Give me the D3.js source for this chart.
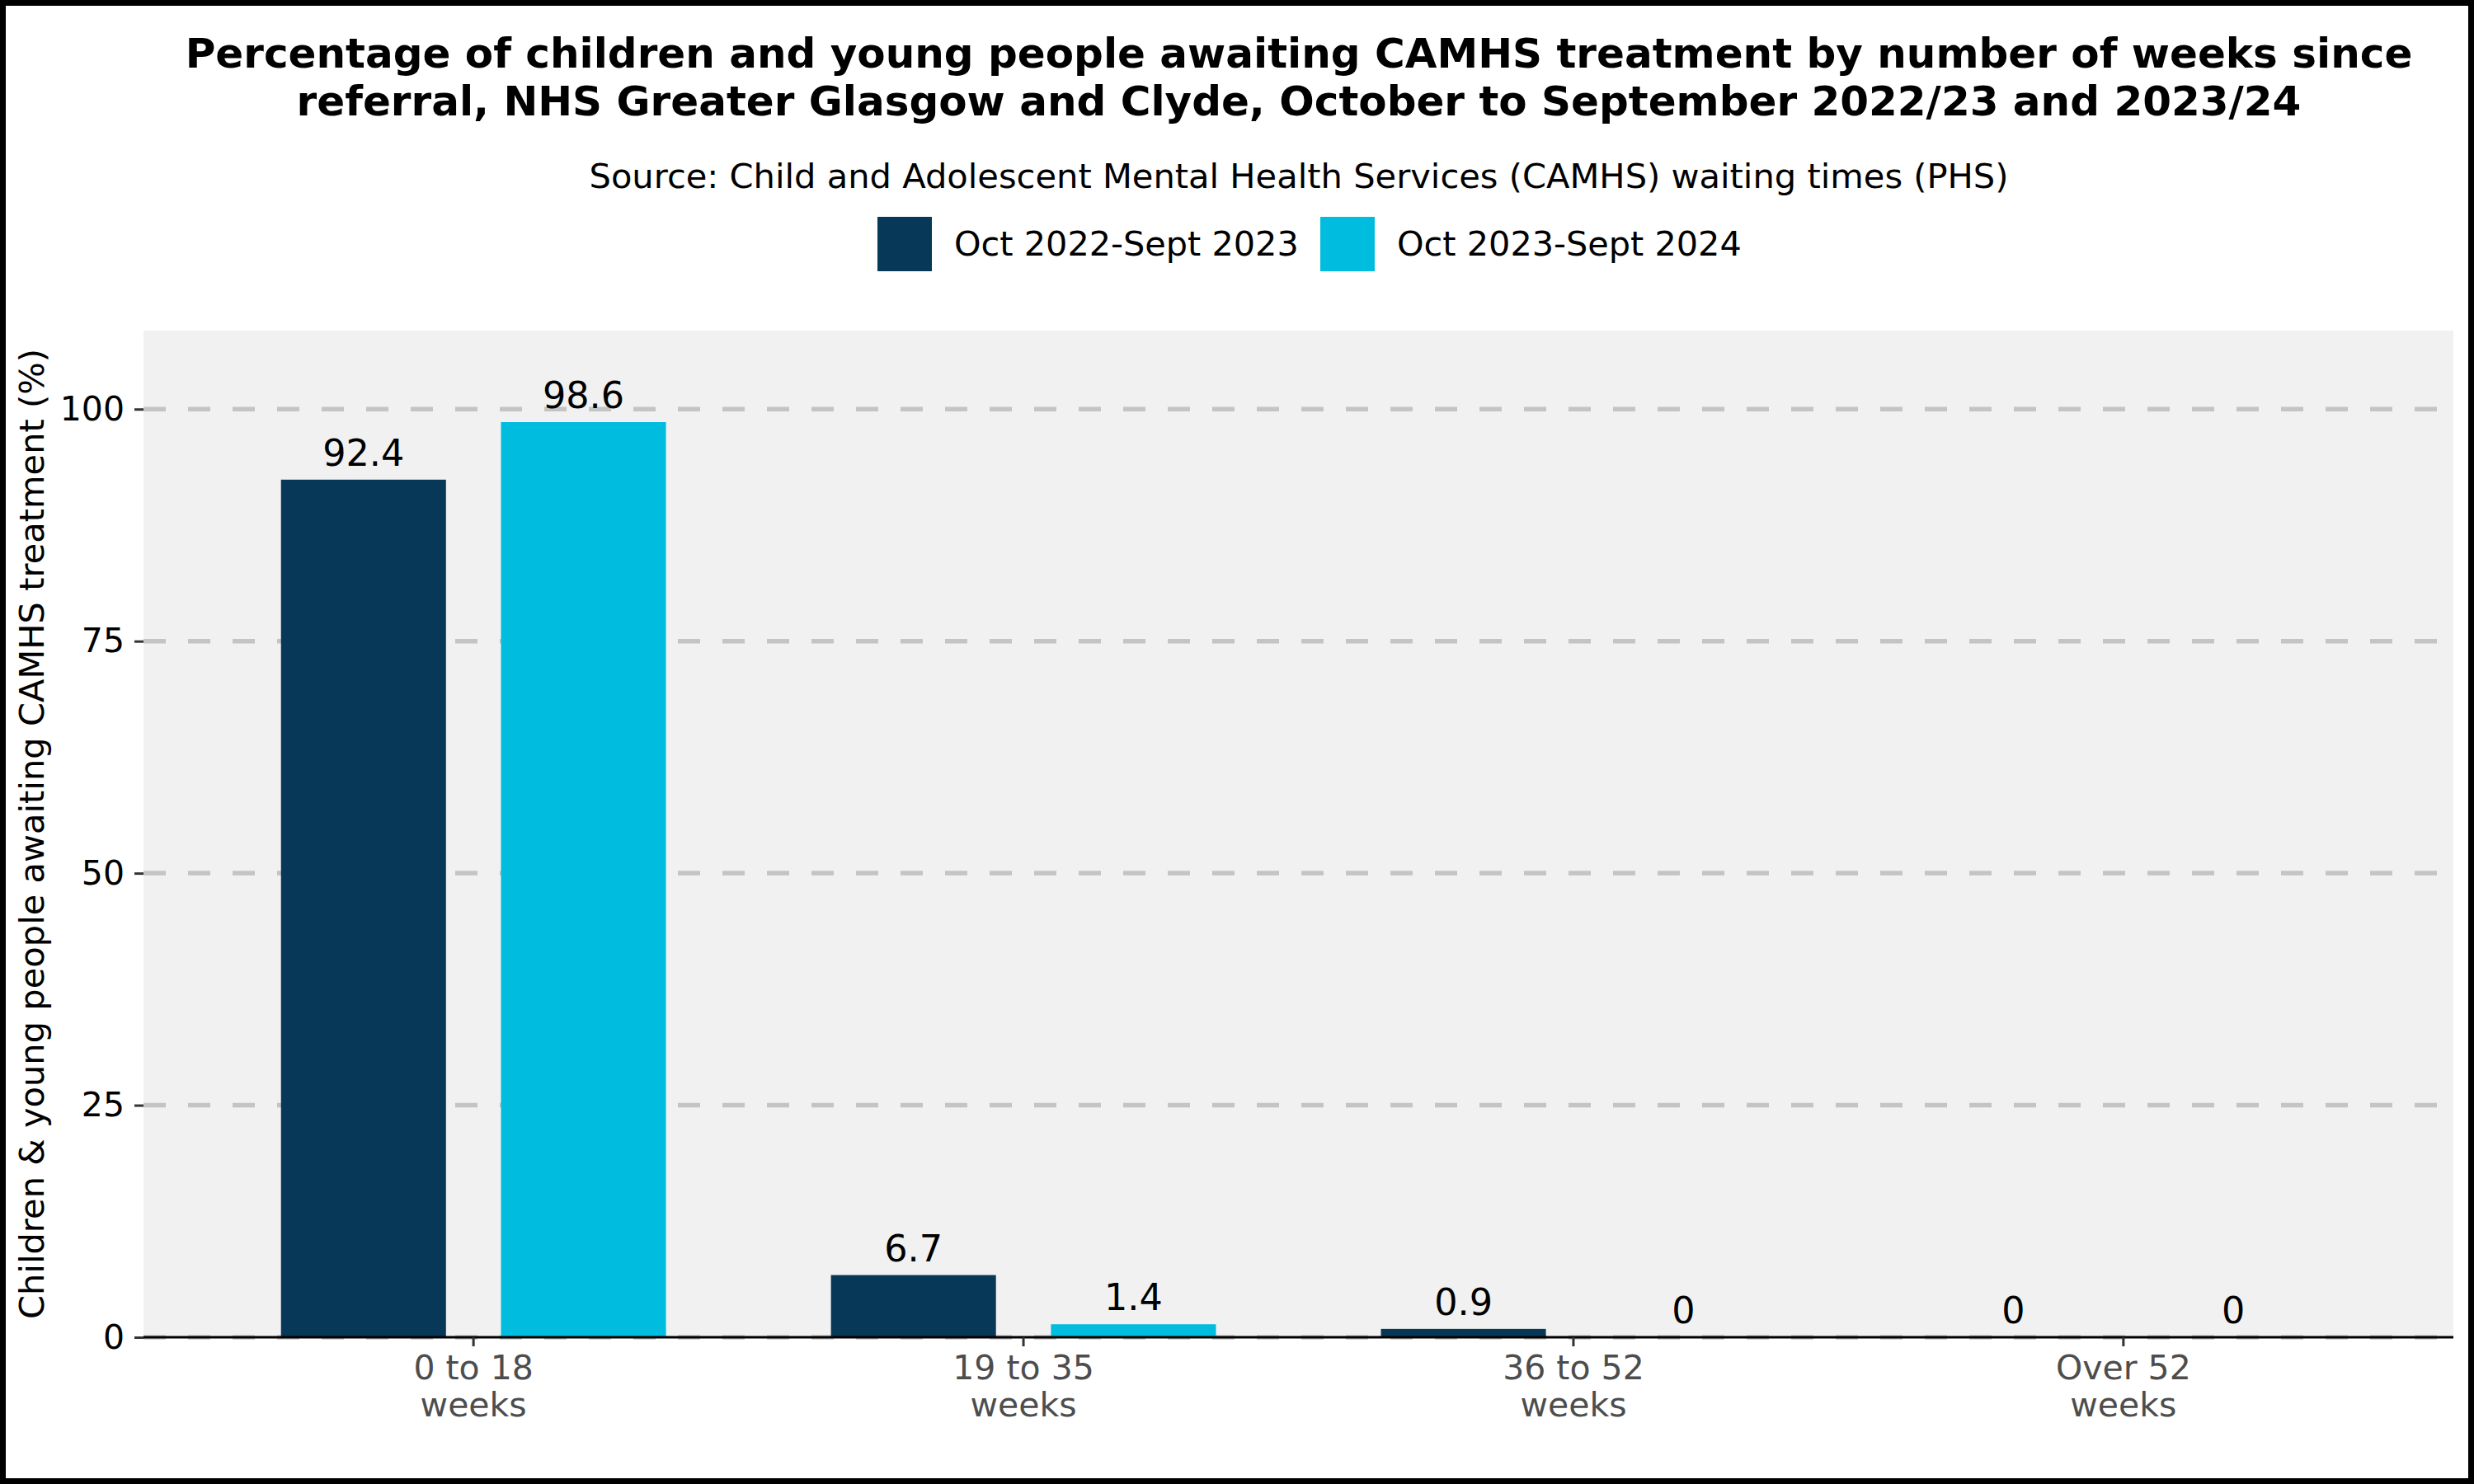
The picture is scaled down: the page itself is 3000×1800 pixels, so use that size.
<!DOCTYPE html>
<html>
<head>
<meta charset="utf-8">
<script src="https://cdn.jsdelivr.net/npm/d3@7"></script>
<style>
  body { margin: 0; background: #fff; }
  text { font-family: "DejaVu Sans", sans-serif; }
</style>
</head>
<body>
<script>
// chart data
var categories = ["0 to 18\nweeks", "19 to 35\nweeks", "36 to 52\nweeks", "Over 52\nweeks"];
var seriesNames = ["Oct 2022-Sept 2023", "Oct 2023-Sept 2024"];
var values2223 = [92.4, 6.7, 0.9, 0];
var values2324 = [98.6, 1.4, 0, 0];
var yTicks = [0, 25, 50, 75, 100];

var colours = ["#083857", "#00bde0"];

var W = 3000, H = 1800;
var panel = { left: 174, right: 2975, top: 401, bottom: 1622 };

var svg = d3.select("body").append("svg")
  .attr("width", W)
  .attr("height", H);

svg.append("rect")
  .attr("x", 3.5).attr("y", 3.5)
  .attr("width", W - 7).attr("height", H - 7)
  .attr("fill", "#fff")
  .attr("stroke", "#000")
  .attr("stroke-width", 7);

// title + subtitle
var title = svg.append("text")
  .attr("text-anchor", "middle")
  .attr("font-size", 50)
  .attr("font-weight", "bold")
  .attr("fill", "#000");
title.append("tspan").attr("x", 1575).attr("y", 82)
  .text("Percentage of children and young people awaiting CAMHS treatment by number of weeks since");
title.append("tspan").attr("x", 1575).attr("y", 140)
  .text("referral, NHS Greater Glasgow and Clyde, October to September 2022/23 and 2023/24");

svg.append("text")
  .attr("x", 1575).attr("y", 228)
  .attr("text-anchor", "middle")
  .attr("font-size", 41.6)
  .text("Source: Child and Adolescent Mental Health Services (CAMHS) waiting times (PHS)");

// legend
var legendX = [1064, 1601];
seriesNames.forEach(function(name, i) {
  var g = svg.append("g").attr("transform", "translate(" + legendX[i] + ",263)");
  g.append("rect").attr("width", 66).attr("height", 66).attr("fill", colours[i]);
  g.append("text").attr("x", 93).attr("y", 47).attr("font-size", 41.4).text(name);
});

// scales
var step = (panel.right - panel.left) / 4.2;
var x0 = d3.scaleBand()
  .domain(categories)
  .range([panel.left + 0.1 * step, panel.right - 0.1 * step]);

var x1 = d3.scaleBand()
  .domain(seriesNames)
  .range([0, x0.bandwidth()])
  .paddingInner(0.25)
  .paddingOuter(0.375);

var y = d3.scaleLinear()
  .domain([0, 108.46])
  .range([panel.bottom, panel.top]);

// panel
svg.append("rect")
  .attr("x", panel.left).attr("y", panel.top)
  .attr("width", panel.right - panel.left)
  .attr("height", panel.bottom - panel.top)
  .attr("fill", "#f1f1f1");

svg.append("g").selectAll("line")
  .data(yTicks)
  .join("line")
  .attr("x1", panel.left).attr("x2", panel.right)
  .attr("y1", function(d) { return y(d); })
  .attr("y2", function(d) { return y(d); })
  .attr("stroke", "#c4c4c4")
  .attr("stroke-width", 5.5)
  .attr("stroke-dasharray", "27,27");

// bars
var rows = categories.map(function(c, i) {
  return { cat: c, vals: [values2223[i], values2324[i]] };
});

var groups = svg.append("g").selectAll("g")
  .data(rows)
  .join("g")
  .attr("transform", function(d) { return "translate(" + x0(d.cat) + ",0)"; });

groups.selectAll("rect")
  .data(function(d) { return d.vals.map(function(v, i) { return { key: seriesNames[i], v: v, i: i }; }); })
  .join("rect")
  .attr("x", function(d) { return x1(d.key); })
  .attr("y", function(d) { return y(d.v); })
  .attr("width", x1.bandwidth())
  .attr("height", function(d) { return y(0) - y(d.v); })
  .attr("fill", function(d) { return colours[d.i]; });

groups.selectAll("text")
  .data(function(d) { return d.vals.map(function(v, i) { return { key: seriesNames[i], v: v }; }); })
  .join("text")
  .attr("x", function(d) { return x1(d.key) + x1.bandwidth() / 2; })
  .attr("y", function(d) { return y(d.v) - 17; })
  .attr("text-anchor", "middle")
  .attr("font-size", 44.5)
  .attr("fill", "#000")
  .text(function(d) { return d.v; });

// y axis
var yAxis = svg.append("g")
  .attr("transform", "translate(" + panel.left + ",0)")
  .call(d3.axisLeft(y).tickValues(yTicks).tickSize(11).tickPadding(12));
yAxis.select(".domain").remove();
yAxis.selectAll(".tick line").attr("stroke", "#333").attr("stroke-width", 3);
yAxis.selectAll(".tick text")
  .attr("font-size", 41)
  .attr("font-family", "DejaVu Sans")
  .attr("fill", "#000");

// x axis
var xAxis = svg.append("g")
  .attr("transform", "translate(0," + panel.bottom + ")")
  .call(d3.axisBottom(x0).tickSize(11).tickSizeOuter(0));
xAxis.select(".domain")
  .attr("d", "M" + panel.left + ",0H" + panel.right)
  .attr("stroke", "#000").attr("stroke-width", 3);
xAxis.selectAll(".tick line").attr("stroke", "#333").attr("stroke-width", 3);
xAxis.selectAll(".tick text").each(function(d) {
  var t = d3.select(this).text("").attr("y", null).attr("dy", null)
    .attr("font-size", 41)
    .attr("font-family", "DejaVu Sans")
    .attr("fill", "#4d4d4d");
  d.split("\n").forEach(function(line, k) {
    t.append("tspan").attr("x", 0).attr("y", 51 + k * 45).text(line);
  });
});

// y label
svg.append("text")
  .attr("transform", "translate(53," + (panel.top + panel.bottom) / 2 + ") rotate(-90)")
  .attr("text-anchor", "middle")
  .attr("font-size", 41.6)
  .text("Children & young people awaiting CAMHS treatment (%)");
</script>
</body>
</html>
